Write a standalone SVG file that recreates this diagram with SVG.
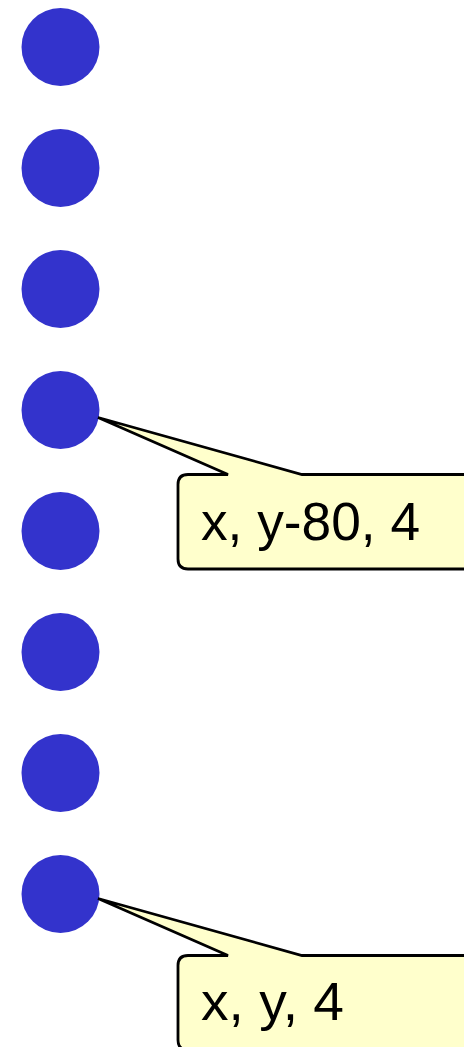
<svg xmlns="http://www.w3.org/2000/svg" width="464" height="1047" viewBox="0 0 464 1047">
<style>
.dot{fill:#3333cc}
.callout{fill:#ffffcc;stroke:#000;stroke-width:2.8;stroke-linejoin:miter}
</style>
<rect width="464" height="1047" fill="#fff"/>
<g id="nodes">
<circle id="n1" class="dot" cx="60.5" cy="47" r="39"/>
<circle id="n2" class="dot" cx="60.5" cy="168" r="39"/>
<circle id="n3" class="dot" cx="60.5" cy="289" r="39"/>
<circle id="n4" class="dot" cx="60.5" cy="410" r="39"/>
<circle id="n5" class="dot" cx="60.5" cy="531" r="39"/>
<circle id="n6" class="dot" cx="60.5" cy="652" r="39"/>
<circle id="n7" class="dot" cx="60.5" cy="773" r="39"/>
<circle id="n8" class="dot" cx="60.5" cy="894" r="39"/>
</g>
<g id="connectors">
<g id="callout1">
<path class="callout" d="M188,474.5 H228 L98,417.5 L302,474.5 H480 V569 H188 Q178,569 178,559 V484.5 Q178,474.5 188,474.5 Z"/>
<text x="201" y="539.5" font-family="Liberation Sans, Arial, sans-serif" font-size="53" fill="#000" textLength="219" lengthAdjust="spacingAndGlyphs">x, y-80, 4</text>
</g>
<g id="callout2">
<path class="callout" d="M188,955.5 H228 L98,898.5 L302,955.5 H480 V1050 H188 Q178,1050 178,1040 V965.5 Q178,955.5 188,955.5 Z"/>
<text x="201" y="1020" font-family="Liberation Sans, Arial, sans-serif" font-size="53" fill="#000" textLength="143" lengthAdjust="spacingAndGlyphs">x, y, 4</text>
</g>
</g>
</svg>
